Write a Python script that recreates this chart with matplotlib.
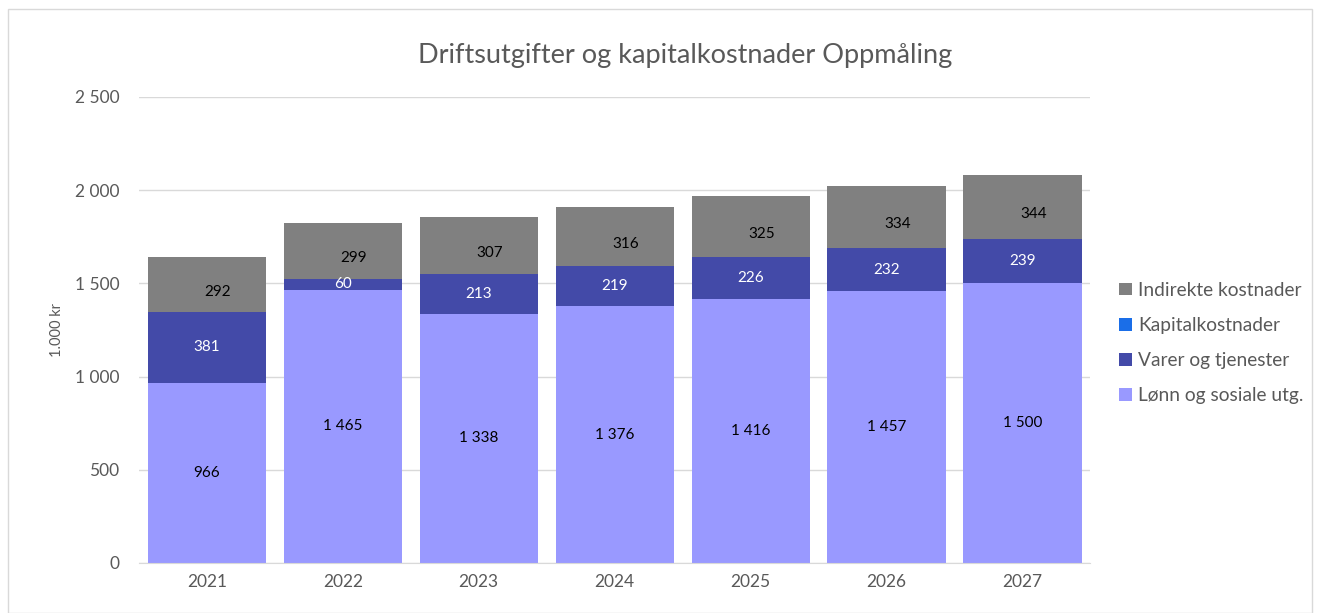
import matplotlib.pyplot as plt
import numpy as np

plt.rcParams['font.family'] = ['Lato', 'DejaVu Sans']

years = ['2021', '2022', '2023', '2024', '2025', '2026', '2027']
lonn = [966, 1465, 1338, 1376, 1416, 1457, 1500]
varer = [381, 60, 213, 219, 226, 232, 239]
kapital = [0, 0, 0, 0, 0, 0, 0]
indirekte = [292, 299, 307, 316, 325, 334, 344]

c_lonn = '#9999ff'
c_varer = '#434aa8'
c_kap = '#1a6ee8'
c_ind = '#808080'


def fmt(v):
    return f'{v:,}'.replace(',', '\u00a0')


fig = plt.figure(figsize=(13.17, 6.13), dpi=100)
ax = fig.add_axes([0.1055, 0.0816, 0.7225, 0.7602])

x = np.arange(len(years))
w = 0.87
lonn = np.array(lonn)
varer = np.array(varer)
kapital = np.array(kapital)
indirekte = np.array(indirekte)

b1 = ax.bar(x, lonn, w, color=c_lonn, label='Lønn og sosiale utg.', zorder=2)
b2 = ax.bar(x, varer, w, bottom=lonn, color=c_varer, label='Varer og tjenester', zorder=2)
b3 = ax.bar(x, kapital, w, bottom=lonn + varer, color=c_kap, label='Kapitalkostnader', zorder=2)
b4 = ax.bar(x, indirekte, w, bottom=lonn + varer + kapital, color=c_ind,
            label='Indirekte kostnader', zorder=2)

for i in range(len(years)):
    ax.text(x[i], lonn[i] / 2, fmt(lonn[i]), ha='center', va='center',
            fontsize=11, color='black', zorder=3)
    ax.text(x[i], lonn[i] + varer[i] / 2, fmt(varer[i]), ha='center', va='center',
            fontsize=11, color='white', zorder=3)
    top = lonn[i] + varer[i] + kapital[i]
    ax.text(x[i] + 0.08, top + indirekte[i] / 2 - 40, fmt(indirekte[i]),
            ha='center', va='center', fontsize=11, color='black', zorder=3)

ax.set_xlim(-0.5, len(years) - 0.5)
ax.set_ylim(0, 2500)
ax.set_yticks(range(0, 2501, 500))
ax.set_yticklabels([fmt(v) for v in range(0, 2501, 500)])
ax.set_xticks(x)
ax.set_xticklabels(years)
ax.yaxis.grid(True, color='#d9d9d9', linewidth=1, zorder=0)
ax.set_axisbelow(True)
for s in ['top', 'right', 'left']:
    ax.spines[s].set_visible(False)
ax.spines['bottom'].set_color('#d9d9d9')
ax.tick_params(axis='both', length=0, labelsize=12.5, colors='#595959', pad=8)
ax.tick_params(axis='y', pad=14)
ax.set_ylabel('1.000 kr', fontsize=10.5, color='#595959', labelpad=8)

fig.text(0.52, 0.91, 'Driftsutgifter og kapitalkostnader Oppmåling', fontsize=19.5,
         color='#595959', ha='center', va='center')

handles = [b4, b3, b2, b1]
ax.legend(handles=handles, labels=[h.get_label() for h in handles],
          loc='center left', bbox_to_anchor=(1.012, 0.472), frameon=False,
          fontsize=13.8, labelcolor='#595959', handlelength=0.65, handleheight=0.65,
          handletextpad=0.35, labelspacing=0.95)

fig.patches.append(plt.Rectangle((0.006, 0.0), 0.99, 0.985, transform=fig.transFigure,
                                 fill=False, edgecolor='#d9d9d9', linewidth=1))

fig.savefig('out.png', dpi=100)
